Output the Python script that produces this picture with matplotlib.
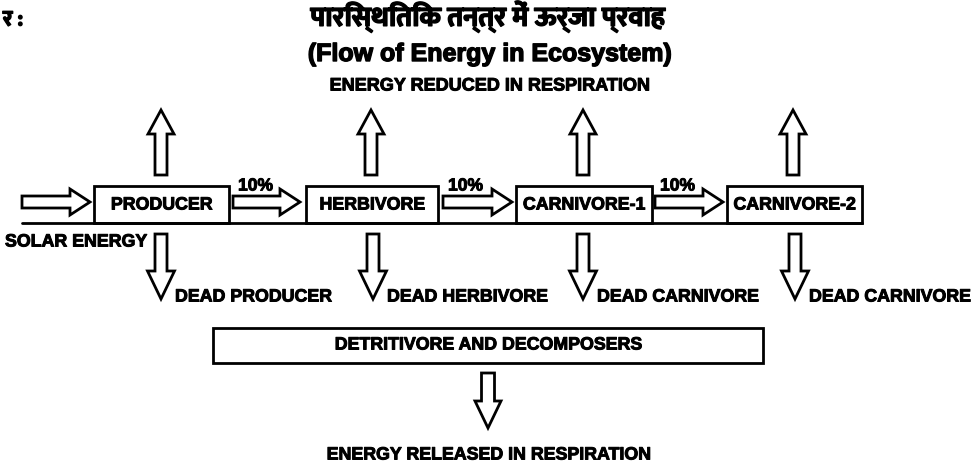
import matplotlib
matplotlib.use("Agg")
import matplotlib.pyplot as plt
import matplotlib.patheffects as pe
from matplotlib import font_manager as fm
from matplotlib.patches import FancyArrow, Rectangle

# text content of the diagram
title_hi = "पारिस्थितिक तन्त्र में ऊर्जा प्रवाह"
title_en = "(Flow of Energy in Ecosystem)"
corner_hi = "र :"
levels = ["PRODUCER", "HERBIVORE", "CARNIVORE-1", "CARNIVORE-2"]
dead_labels = ["DEAD PRODUCER", "DEAD HERBIVORE", "DEAD CARNIVORE", "DEAD CARNIVORE"]
transfer = ["10%", "10%", "10%"]
source_label = "SOLAR ENERGY"
top_label = "ENERGY REDUCED IN RESPIRATION"
sink_box = "DETRITIVORE AND DECOMPOSERS"
bottom_label = "ENERGY RELEASED IN RESPIRATION"

# layout (pixel coords, y downwards)
box_left = [94, 306, 516, 727]
box_right = [229, 438, 652, 862]
up_x = [161, 371, 583, 793]
down_x = [161, 373, 583, 795]
flow_start = [22, 233, 443, 655]
flow_end = [90, 300, 512, 723]


def find_deva():
    found = []
    for f in fm.findSystemFonts():
        n = f.lower()
        if "devanagari" in n or "lohit" in n or "mukta" in n or "mangal" in n:
            found.append(f)
    if not found:
        return None
    # prefer a bold face, but not the condensed / UI variants
    found.sort(key=lambda f: (("bold" not in f.lower()) or ("semibold" in f.lower())
                              or ("extrabold" in f.lower()),
                              "ui" in f.lower(), "condensed" in f.lower(), len(f)))
    return found[0]


deva = find_deva()
if deva:
    hi_font = dict(fontproperties=fm.FontProperties(fname=deva))
else:
    hi_font = dict(family=["Noto Sans", "DejaVu Sans"], weight="bold")

LAT = dict(family=["Liberation Sans", "DejaVu Sans"], weight="bold", color="black")
heavy = [pe.withStroke(linewidth=0.7, foreground="black")]
LW = 2.0

fig = plt.figure(figsize=(9.76, 4.70), dpi=100)
ax = fig.add_axes([0, 0, 1, 1])
ax.set_xlim(0, 976)
ax.set_ylim(470, 0)
ax.axis("off")


def block_arrow(x0, y0, x1, y1, stem=12, head=26, hlen=24):
    ax.add_patch(FancyArrow(x0, y0, x1 - x0, y1 - y0, width=stem,
                            head_width=head, head_length=hlen,
                            length_includes_head=True, fill=False,
                            lw=LW, ec="black", joinstyle="miter"))


def label(x, y, s, size=12.8, ha="center"):
    ax.text(x, y, s, ha=ha, va="center", fontsize=size,
            path_effects=heavy, **LAT)


# titles
ax.text(488, 17, title_hi, ha="center", va="center", fontsize=20,
        path_effects=[pe.withStroke(linewidth=1.0, foreground="black")], **hi_font)
ax.text(3, 20, corner_hi, ha="left", va="center", fontsize=16,
        path_effects=[pe.withStroke(linewidth=1.0, foreground="black")], **hi_font)
ax.text(490, 54, title_en, ha="center", va="center", fontsize=18,
        path_effects=[pe.withStroke(linewidth=1.0, foreground="black")], **LAT)
label(490, 86, top_label, size=13)

# baseline under trophic boxes
ax.plot([22, 862], [223, 223], color="black", lw=LW, solid_capstyle="round")

for i, name in enumerate(levels):
    l, r = box_left[i], box_right[i]
    ax.add_patch(Rectangle((l, 186), r - l, 37, fill=False, ec="black", lw=LW))
    label((l + r) / 2, 205, name)
    block_arrow(up_x[i], 175, up_x[i], 110, hlen=24)
    block_arrow(down_x[i], 234, down_x[i], 299, head=27, hlen=28)
    label(down_x[i] + 14, 297, dead_labels[i], ha="left")
    block_arrow(flow_start[i], 202, flow_end[i], 202, head=26, hlen=20)

for i, lab in enumerate(transfer):
    label(flow_start[i + 1] + 5, 186, lab, size=12.6, ha="left")

label(5, 242, source_label, ha="left")

# detritivore box and release arrow
ax.add_patch(Rectangle((213, 328), 550, 35, fill=False, ec="black", lw=LW))
label(488, 345, sink_box)
block_arrow(488, 373, 488, 428, stem=13, head=26, hlen=27)
label(488, 455, bottom_label)

fig.savefig("out.png", dpi=100)
